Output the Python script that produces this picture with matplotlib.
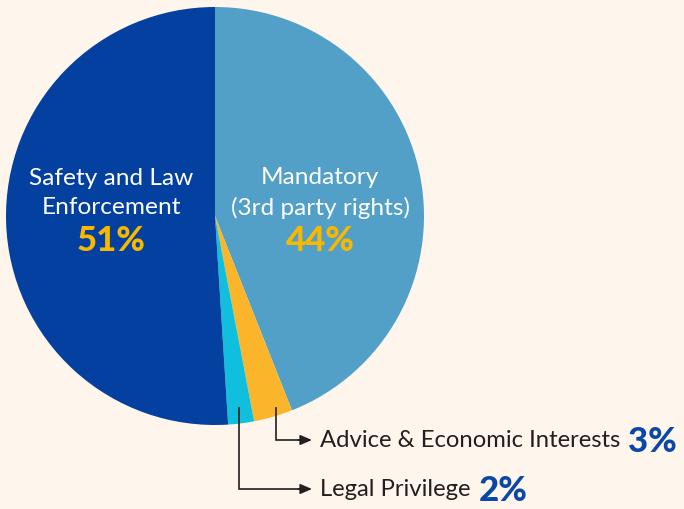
import matplotlib
matplotlib.use("Agg")
import matplotlib.pyplot as plt

categories = ["Mandatory\n(3rd party rights)", "Advice & Economic Interests", "Legal Privilege", "Safety and Law\nEnforcement"]
values = [44, 3, 2, 51]
colors = ["#529FC8", "#FBB52A", "#10BEDD", "#0340A0"]
pct_labels = ["44%", "3%", "2%", "51%"]

BG = "#FEF6EC"
W, H = 684, 510
fig = plt.figure(figsize=(W / 100, H / 100), dpi=100, facecolor=BG)
ax = fig.add_axes([0, 0, 1, 1])
ax.set_facecolor(BG)

cx, cy, r = 215, H - 217, 209
ax.pie(values, colors=colors, startangle=90, counterclock=False,
       center=(cx, cy), radius=r, frame=True,
       wedgeprops=dict(linewidth=0))
ax.set_xlim(0, W)
ax.set_ylim(0, H)
ax.set_aspect("equal")
ax.axis("off")

fam = ["Lato", "DejaVu Sans"]
def py(y):
    return H - y

# inner labels
ax.text(111, py(193), categories[3], ha="center", va="center", color="white",
        fontsize=17.6, family=fam, linespacing=1.45)
ax.text(111, py(241), pct_labels[3], ha="center", va="center", color="#F9B800",
        fontsize=25, fontweight="black", family=fam)
ax.text(320, py(193), categories[0], ha="center", va="center", color="white",
        fontsize=17.6, family=fam, linespacing=1.45)
ax.text(320, py(241), pct_labels[0], ha="center", va="center", color="#F9B800",
        fontsize=25, fontweight="black", family=fam)

# callouts
line_col = "#231F20"
callouts = [(276, 409, 441, categories[1], pct_labels[1]),
            (239, 409, 490, categories[2], pct_labels[2])]
for x0, y0, y1, lab, pct in callouts:
    ax.plot([x0, x0, 300], [py(y0), py(y1), py(y1)], color=line_col, lw=1.2,
            solid_joinstyle="miter")
    ax.annotate("", xy=(312, py(y1)), xytext=(298, py(y1)),
                arrowprops=dict(arrowstyle="-|>,head_length=0.7,head_width=0.3",
                                color=line_col, lw=1.2, shrinkA=0, shrinkB=0))
    t = ax.text(320, py(y1), lab + " ", ha="left", va="center", color="#231F20",
                fontsize=17.2, family=fam)
    fig.canvas.draw()
    bb = t.get_window_extent()
    ax.text(bb.x1 + 2, py(y1) - 1, pct, ha="left", va="center", color="#0B47A8",
            fontsize=25, fontweight="black", family=fam)

fig.savefig("out.png", dpi=100, facecolor=BG)
